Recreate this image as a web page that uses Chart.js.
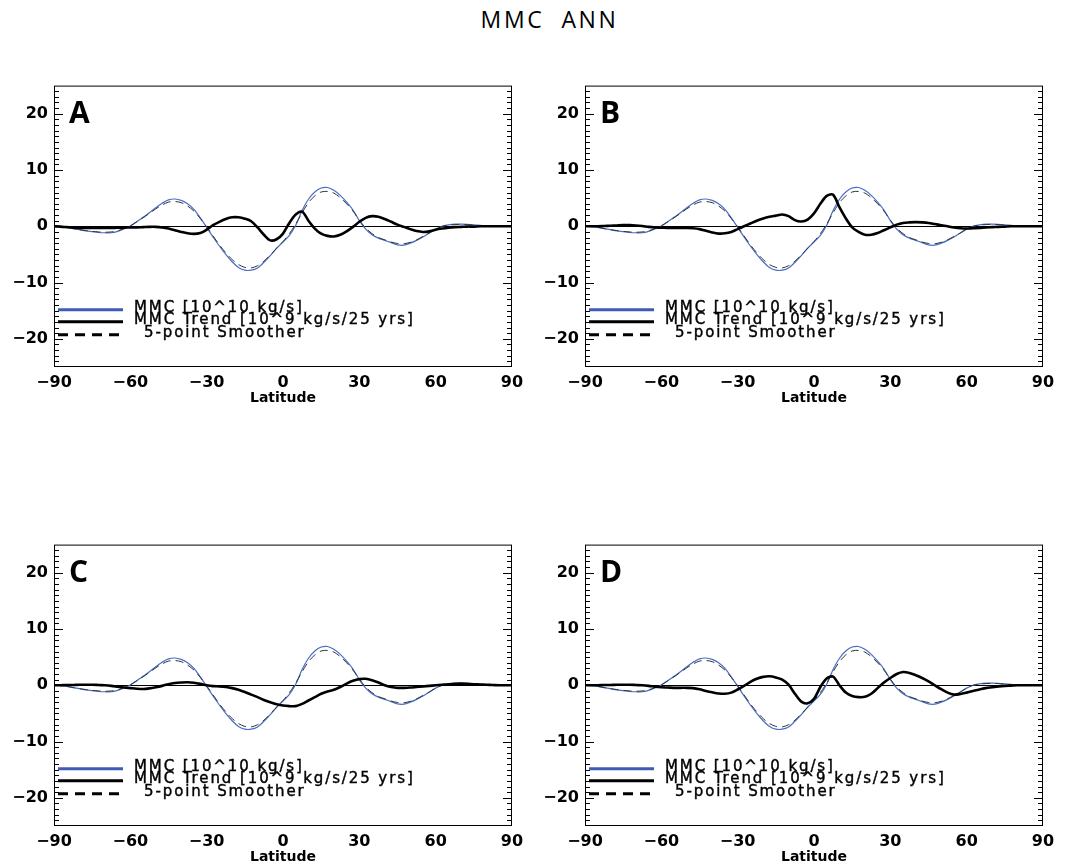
<!DOCTYPE html>
<html>
<head>
<meta charset="utf-8">
<script src="https://cdn.jsdelivr.net/npm/chart.js@4.4.0/dist/chart.umd.min.js"></script>
<style>
  html, body { margin: 0; padding: 0; background: #fff; overflow: hidden; }
  body { width: 1079px; height: 866px; position: relative; }
  #title { position: absolute; left: 10px; width: 1079px; top: 3px; text-align: center;
           font: 23px "Open Sans"; letter-spacing: 2.6px; white-space: pre; color: #000; }
  .panel { position: absolute; width: 540px; height: 345px; }
</style>
</head>
<body>
<div id="title">MMC  ANN</div>
<div class="panel" style="left:0;top:70px"><canvas id="chartA" width="540" height="345"></canvas></div>
<div class="panel" style="left:531px;top:70px"><canvas id="chartB" width="540" height="345"></canvas></div>
<div class="panel" style="left:0;top:529px"><canvas id="chartC" width="540" height="345"></canvas></div>
<div class="panel" style="left:531px;top:529px"><canvas id="chartD" width="540" height="345"></canvas></div>
<script>
// latitude grid (deg)
let lats = [-90, -87.5, -85, -82.5, -80, -77.5, -75, -72.5, -70, -67.5,
    -65, -62.5, -60, -57.5, -55, -52.5, -50, -47.5, -45, -42.5,
    -40, -37.5, -35, -32.5, -30, -27.5, -25, -22.5, -20, -17.5,
    -15, -12.5, -10, -7.5, -5, -2.5, 0, 2.5, 5, 7.5,
    10, 12.5, 15, 17.5, 20, 22.5, 25, 27.5, 30, 32.5,
    35, 37.5, 40, 42.5, 45, 47.5, 50, 52.5, 55, 57.5,
    60, 62.5, 65, 67.5, 70, 72.5, 75, 77.5, 80, 82.5,
    85, 87.5, 90];

// MMC climatology [10^10 kg/s]
let mmc = [0, -0.05, -0.2, -0.4, -0.6, -0.8, -0.95, -1.1, -1.15, -1.15,
    -0.9, -0.45, 0.05, 0.8, 1.6, 2.4, 3.3, 4.1, 4.7, 4.85,
    4.6, 4.0, 3.0, 1.5, -0.2, -1.9, -3.5, -5.0, -6.3, -7.3,
    -7.8, -7.8, -7.4, -6.4, -5.2, -3.9, -2.8, -1.6, 0.2, 2.8,
    4.8, 6.1, 6.8, 6.9, 6.4, 5.5, 4.3, 2.9, 1.0, -0.5,
    -1.5, -2.1, -2.5, -2.9, -3.3, -3.35, -3.0, -2.5, -1.9, -1.2,
    -0.5, 0.0, 0.25, 0.4, 0.4, 0.35, 0.25, 0.15, 0.05, 0.0,
    0, 0, 0];

// 5-point smoother
let mmcSmooth = [0, -0.05, -0.2, -0.4, -0.6, -0.75, -0.9, -1.0, -1.05, -1.0,
    -0.8, -0.4, 0.1, 0.8, 1.5, 2.3, 3.1, 3.8, 4.3, 4.4,
    4.2, 3.6, 2.7, 1.4, -0.1, -1.7, -3.3, -4.7, -5.9, -6.8,
    -7.3, -7.4, -7.0, -6.2, -5.1, -3.9, -2.7, -1.3, 0.4, 2.4,
    4.2, 5.4, 6.1, 6.2, 5.9, 5.1, 4.0, 2.7, 1.1, -0.3,
    -1.3, -2.0, -2.4, -2.8, -3.05, -3.1, -2.85, -2.4, -1.8, -1.2,
    -0.5, 0.0, 0.2, 0.3, 0.35, 0.3, 0.2, 0.1, 0.05, 0,
    0, 0, 0];

// MMC trend [10^9 kg/s/25 yrs], one per panel
let trendA = [0, -0.05, -0.15, -0.25, -0.3, -0.3, -0.3, -0.3, -0.3, -0.3,
    -0.25, -0.25, -0.2, -0.2, -0.15, -0.1, -0.1, -0.2, -0.4, -0.7,
    -1.0, -1.25, -1.35, -1.2, -0.6, 0.2, 0.8, 1.3, 1.6, 1.6,
    1.35, 0.9, -0.2, -1.5, -2.5, -2.3, -1.3, 0.6, 2.1, 2.6,
    1.0, -0.4, -1.3, -1.7, -1.8, -1.5, -0.9, -0.1, 0.8, 1.5,
    1.8, 1.7, 1.3, 0.8, 0.3, -0.1, -0.5, -0.85, -1.0, -0.9,
    -0.6, -0.4, -0.25, -0.15, -0.1, -0.05, -0.05, 0, 0, 0,
    0, 0, 0];

let trendB = [0, 0, 0, 0.05, 0.1, 0.15, 0.2, 0.2, 0.15, 0.05,
    -0.1, -0.2, -0.25, -0.3, -0.3, -0.3, -0.3, -0.35, -0.5, -0.8,
    -1.1, -1.3, -1.25, -1.0, -0.5, 0.0, 0.5, 1.0, 1.4, 1.7,
    1.9, 2.1, 1.8, 1.1, 0.85, 1.2, 2.3, 4.0, 5.4, 5.6,
    3.4, 1.4, -0.2, -1.0, -1.5, -1.5, -1.2, -0.7, -0.2, 0.3,
    0.6, 0.7, 0.75, 0.7, 0.6, 0.4, 0.2, 0.0, -0.2, -0.35,
    -0.4, -0.35, -0.3, -0.2, -0.15, -0.1, -0.05, 0, 0, 0,
    0, 0, 0];

let trendC = [0, 0, 0.05, 0.05, 0.1, 0.1, 0.1, 0.05, 0, -0.1,
    -0.25, -0.4, -0.5, -0.6, -0.65, -0.55, -0.35, -0.1, 0.2, 0.4,
    0.5, 0.55, 0.45, 0.25, 0.0, -0.15, -0.2, -0.3, -0.5, -0.8,
    -1.2, -1.65, -2.1, -2.6, -3.0, -3.35, -3.6, -3.7, -3.7, -3.3,
    -2.7, -2.1, -1.5, -1.1, -0.8, -0.3, 0.3, 0.8, 1.1, 1.15,
    0.9, 0.5, 0.0, -0.3, -0.45, -0.45, -0.4, -0.3, -0.2, -0.1,
    0.0, 0.1, 0.2, 0.25, 0.3, 0.25, 0.2, 0.15, 0.1, 0.05,
    0, 0, 0];

let trendD = [0, 0, 0, 0.05, 0.05, 0.1, 0.1, 0.1, 0.05, 0,
    -0.1, -0.25, -0.35, -0.4, -0.45, -0.45, -0.45, -0.5, -0.7, -1.0,
    -1.25, -1.45, -1.5, -1.3, -0.75, -0.1, 0.6, 1.15, 1.5, 1.6,
    1.4, 1.0, 0.1, -1.5, -2.9, -3.2, -2.4, -0.3, 1.2, 1.55,
    0.0, -1.3, -1.9, -2.1, -2.05, -1.5, -0.5, 0.5, 1.3, 2.0,
    2.35, 2.2, 1.8, 1.3, 0.7, 0.0, -0.7, -1.3, -1.65, -1.55,
    -1.3, -1.0, -0.75, -0.5, -0.35, -0.2, -0.1, -0.05, 0, 0,
    0, 0, 0];

let latTicks = [-90, -60, -30, 0, 30, 60, 90];
let valTicks = [-20, -10, 0, 10, 20];

const blue = 'rgb(72, 110, 200)';
const legendBlue = 'rgb(62, 92, 180)';
const tickFont = { family: 'DejaVu Sans', size: 16, weight: 'bold' };

function toPoints(values) {
    return values.map((v, i) => ({ x: lats[i], y: v }));
}

function minusSign(v) {
    return String(v).replace('-', '\u2212');
}

// box, inward ticks, zero line, panel letter and legend
const frame = {
    id: 'frame',
    beforeDatasetsDraw(chart) {
        const ctx = chart.ctx;
        const a = chart.chartArea;
        const y0 = Math.round(chart.scales.y.getPixelForValue(0)) + 0.5;
        ctx.save();
        ctx.strokeStyle = '#000';
        ctx.lineWidth = 1;
        ctx.beginPath();
        ctx.moveTo(a.left, y0);
        ctx.lineTo(a.right, y0);
        ctx.stroke();
        ctx.restore();
    },
    afterDraw(chart, args, opts) {
        const ctx = chart.ctx;
        const a = chart.chartArea;
        const ys = chart.scales.y;
        ctx.save();
        ctx.strokeStyle = '#000';
        ctx.lineWidth = 1;
        ctx.strokeRect(a.left + 0.5, a.top + 0.5, a.right - a.left - 1, a.bottom - a.top - 1);

        ctx.beginPath();
        for (let v = -24; v <= 24; v++) {
            const py = Math.round(ys.getPixelForValue(v)) + 0.5;
            const len = (v % 10 === 0) ? 9 : 5;
            ctx.moveTo(a.left, py);
            ctx.lineTo(a.left + len, py);
            ctx.moveTo(a.right, py);
            ctx.lineTo(a.right - len, py);
        }
        ctx.stroke();

        // panel letter
        ctx.fillStyle = '#000';
        ctx.font = 'bold 30px "Open Sans"';
        ctx.textBaseline = 'alphabetic';
        ctx.textAlign = 'left';
        ctx.fillText(opts.letter, a.left + 15, a.top + 37);

        // legend
        const y0 = ys.getPixelForValue(0);
        const ds = chart.data.datasets;
        const rows = [
            { d: ds[2], dy: 83.5, color: legendBlue, w: 3, dash: [], tx: 80 },
            { d: ds[0], dy: 95.5, color: '#000', w: 3, dash: [], tx: 80 },
            { d: ds[1], dy: 108.5, color: '#000', w: 3, dash: [10, 7], tx: 90 }
        ];
        ctx.font = '15px "DejaVu Sans"';
        ctx.textBaseline = 'middle';
        if ('letterSpacing' in ctx) ctx.letterSpacing = '1.9px';
        rows.forEach(r => {
            ctx.strokeStyle = r.color;
            ctx.lineWidth = r.w;
            ctx.setLineDash(r.dash);
            ctx.beginPath();
            ctx.moveTo(a.left + 4, y0 + r.dy);
            ctx.lineTo(a.left + 69, y0 + r.dy);
            ctx.stroke();
            ctx.setLineDash([]);
            ctx.fillText(r.d.label, a.left + r.tx, y0 + r.dy - 1.5);
            // slightly heavier strokes, like the plotted font
            ctx.strokeStyle = '#000';
            ctx.lineWidth = 0.4;
            ctx.strokeText(r.d.label, a.left + r.tx, y0 + r.dy - 1.5);
        });
        if ('letterSpacing' in ctx) ctx.letterSpacing = '0px';
        ctx.restore();
    }
};

function makeChart(id, letter, trend) {
    return new Chart(document.getElementById(id), {
        type: 'line',
        data: {
            datasets: [
                { label: 'MMC Trend [10^9 kg/s/25 yrs]', data: toPoints(trend), borderColor: '#000', borderWidth: 2.6 },
                { label: '5-point Smoother', data: toPoints(mmcSmooth), borderColor: '#333', borderWidth: 1, borderDash: [8, 5] },
                { label: 'MMC [10^10 kg/s]', data: toPoints(mmc), borderColor: blue, borderWidth: 1.2 }
            ]
        },
        options: {
            responsive: false,
            devicePixelRatio: 1,
            animation: false,
            events: [],
            layout: { padding: { top: 13, right: 28, left: 0, bottom: 0 } },
            elements: {
                point: { radius: 0 },
                line: { tension: 0.3, fill: false }
            },
            plugins: {
                legend: { display: false },
                tooltip: { enabled: false },
                frame: { letter: letter }
            },
            scales: {
                x: {
                    type: 'linear',
                    min: -90,
                    max: 90,
                    afterBuildTicks: s => { s.ticks = latTicks.map(v => ({ value: v })); },
                    afterFit: s => { s.height = 48; },
                    ticks: { callback: minusSign, font: tickFont, color: '#000', padding: 6, maxRotation: 0, autoSkip: false },
                    grid: { display: false, drawTicks: false },
                    border: { display: false },
                    title: {
                        display: true,
                        text: 'Latitude',
                        color: '#000',
                        font: { family: 'DejaVu Sans', size: 14, weight: 'bold' },
                        padding: { top: 0, bottom: 8 }
                    }
                },
                y: {
                    type: 'linear',
                    min: -25,
                    max: 25,
                    afterBuildTicks: s => { s.ticks = valTicks.map(v => ({ value: v })); },
                    afterFit: s => { s.width = 54; },
                    ticks: { callback: minusSign, font: tickFont, color: '#000', padding: 6 },
                    grid: { display: false, drawTicks: false },
                    border: { display: false }
                }
            }
        },
        plugins: [frame]
    });
}

makeChart('chartA', 'A', trendA);
makeChart('chartB', 'B', trendB);
makeChart('chartC', 'C', trendC);
makeChart('chartD', 'D', trendD);
</script>
</body>
</html>
